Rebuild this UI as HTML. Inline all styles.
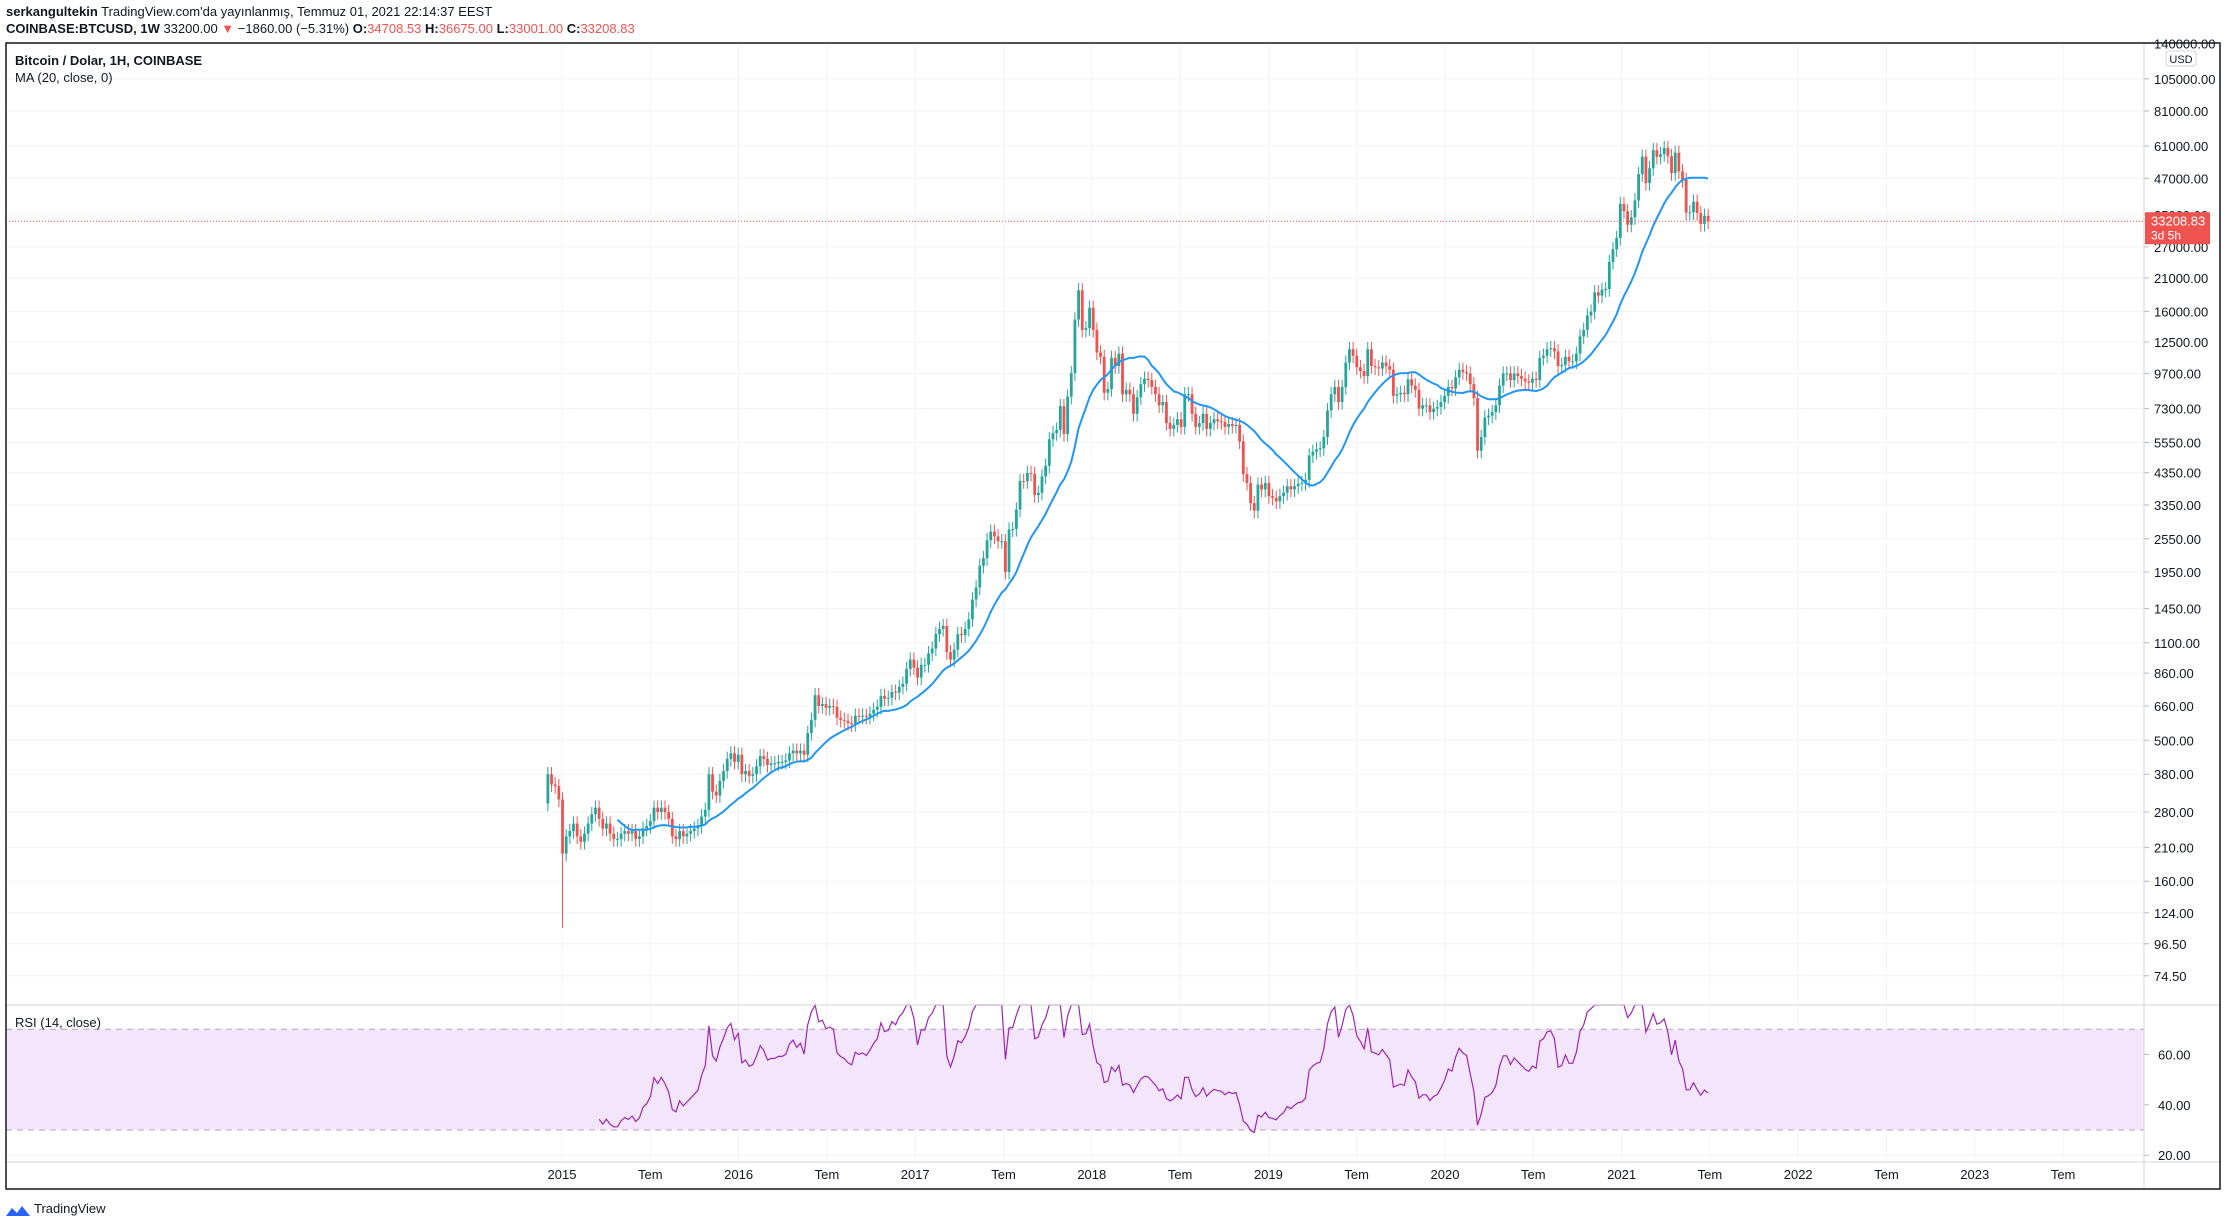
<!DOCTYPE html>
<html><head><meta charset="utf-8">
<style>
html,body{margin:0;padding:0;background:#fff;}
body{width:2228px;height:1226px;overflow:hidden;font-family:"Liberation Sans",sans-serif;}
svg text{font-family:"Liberation Sans",sans-serif;}
</style></head>
<body>
<svg id="chart" width="2228" height="1226" viewBox="0 0 2228 1226" xmlns="http://www.w3.org/2000/svg">
  <g id="header">
    <text x="6" y="16" font-size="13" fill="#131722"><tspan font-weight="bold">serkangultekin</tspan> TradingView.com'da yayınlanmış, Temmuz 01, 2021 22:14:37 EEST</text>
    <text x="6" y="33" font-size="13" fill="#131722"><tspan font-weight="bold">COINBASE:BTCUSD, 1W</tspan>  33200.00 <tspan fill="#ef5350">▼</tspan> −1860.00 (−5.31%) <tspan font-weight="bold">O:</tspan><tspan fill="#ef5350">34708.53</tspan> <tspan font-weight="bold">H:</tspan><tspan fill="#ef5350">36675.00</tspan> <tspan font-weight="bold">L:</tspan><tspan fill="#ef5350">33001.00</tspan> <tspan font-weight="bold">C:</tspan><tspan fill="#ef5350">33208.83</tspan></text>
  </g>
  <g id="grid"></g>
  <rect x="6" y="1005" width="2138" height="157" fill="none"/>
  <g id="rsiBand"></g>
  <g id="candles"></g>
  <g id="ma"></g>
  <g id="rsi"></g>
  <g id="axes"></g>
  <text x="15" y="65" font-size="13" font-weight="bold" fill="#131722">Bitcoin / Dolar, 1H, COINBASE</text>
  <text x="15" y="82" font-size="13" fill="#131722">MA (20, close, 0)</text>
  <text x="15" y="1027" font-size="13" fill="#131722">RSI (14, close)</text>
  <rect x="6" y="43" width="2214" height="1146" fill="none" stroke="#131722" stroke-width="1.5"/>
  <g>
    <path d="M6 1216 l6 -8 l5 5 l5 -7 l8 10 z" fill="#2962ff"/>
    <text x="34" y="1213" font-size="13" fill="#131722">TradingView</text>
  </g>
</svg>
<script>
const priceTicks=[140000,105000,81000,61000,47000,35000,27000,21000,16000,12500,9700,7300,5550,4350,3350,2550,1950,1450,1100,860,660,500,380,280,210,160,124,96.5,74.5];
const rsiTicks=[60,40,20];
const timeLabels=["2015","Tem","2016","Tem","2017","Tem","2018","Tem","2019","Tem","2020","Tem","2021","Tem","2022","Tem","2023","Tem"];
const timeValues=[2015,2015.5,2016,2016.5,2017,2017.5,2018,2018.5,2019,2019.5,2020,2020.5,2021,2021.5,2022,2022.5,2023,2023.5];
const firstOpen=300;
const closes=[380,350,345,310,
200,230,240,255,230,220,235,255,275,290,265,245,255,235,225,225,235,240,235,240,225,230,245,250,260,290,280,290,280,265,230,225,240,230,235,240,245,250,270,285,380,330,320,360,390,430,450,420,
445,380,390,375,380,405,440,430,410,415,415,420,420,425,450,460,450,460,445,530,590,720,660,670,650,660,655,600,590,585,575,570,610,605,610,605,620,640,655,715,700,705,740,735,770,790,890,960,
900,830,920,920,1010,1050,1180,1230,1260,1020,960,1040,1180,1170,1230,1330,1560,1720,2050,2180,2520,2700,2600,2500,2500,1950,2750,2760,3230,4070,4060,4340,4310,3630,3700,4220,4600,5700,5990,6150,7450,5950,8040,9730,15000,19000,13800,14000,
16500,13800,11500,11100,8300,8550,11000,10300,11400,8200,8500,8200,7000,8000,8900,9300,9200,8700,8200,7500,7700,6500,6200,6400,6700,6300,8200,8200,7000,6300,6500,7000,6200,6500,6700,6600,6550,6300,6450,6350,6400,5600,4300,4000,3400,3200,3950,3800,
4000,3600,3550,3450,3600,3700,3900,3800,3900,3980,4000,4100,5000,5150,5250,5300,5800,7200,8200,8700,7700,8700,10600,11800,11200,10200,9900,9500,11800,10300,10200,10100,10600,10300,10000,8100,8200,8300,8200,9250,8800,8500,7300,7500,7500,7100,7300,7400,
7700,8100,8700,8600,9400,10000,9800,9700,8900,7950,5200,5800,6800,6900,7100,7500,8800,9700,9700,9200,9700,9500,9300,9100,9000,9300,9200,11000,11200,11800,11900,11600,10300,10400,11100,10700,10700,11400,13100,13800,15500,16000,18700,18200,19100,19200,23900,26500,
29000,38200,36000,32300,34300,39300,48600,56000,45200,51000,59000,55900,57100,60000,56200,49000,57800,49700,46400,35600,35700,38900,35500,32500,34700,33200];
const startYear=2014.92, endYear=2021.49;
const NS="http://www.w3.org/2000/svg";
const xYear=t=>562+(t-2015)*176.6;
const yPrice=p=>740.3-123.7*Math.log(p/500);
const yRsi=v=>1130-(v-30)*2.52;
const PL=6,PR=2144,PT=43,PB=1005,RT=1005,RB=1162;
function el(tag,attrs,parent){const e=document.createElementNS(NS,tag);for(const k in attrs)e.setAttribute(k,attrs[k]);parent.appendChild(e);return e;}
const grid=document.getElementById('grid'),axes=document.getElementById('axes');
// grid
timeValues.forEach((t,i)=>{const x=xYear(t);
 const g=el('line',{x1:x,x2:x,y1:PT,y2:RB,stroke:'#f0f3fa','stroke-width':1},grid);
 
 
 const tx=el('text',{x:x,y:1179,'font-size':13,'text-anchor':'middle',fill:'#131722'},axes);
 tx.textContent=timeLabels[i];
 
 
});
priceTicks.forEach(p=>{const y=yPrice(p);
 if(y>PT&&y<PB){const g=el('line',{x1:PL,x2:PR,y1:y,y2:y,stroke:'#f0f3fa','stroke-width':1},grid);
 
 }
 el('line',{x1:PR,x2:PR+5,y1:y,y2:y,stroke:'#b2b5be'},axes);
 const tx=el('text',{x:PR+10,y:y+5,'font-size':13,fill:'#131722'},axes);
 tx.textContent=p.toFixed(2);
 
 
});
rsiTicks.forEach(v=>{const y=yRsi(v);
 const g=el('line',{x1:PL,x2:PR,y1:y,y2:y,stroke:'#f0f3fa'},grid);
 
 
 el('line',{x1:PR,x2:PR+5,y1:y,y2:y,stroke:'#b2b5be'},axes);
 const tx=el('text',{x:PR+14,y:y+5,'font-size':13,fill:'#131722'},axes);
 tx.textContent=v.toFixed(2);
 
 
});
// separators
el('line',{x1:PR,x2:PR,y1:PT,y2:1189,stroke:'#d1d4dc'},axes);
el('line',{x1:PL,x2:2220,y1:PB,y2:PB,stroke:'#d1d4dc'},axes);
el('line',{x1:PL,x2:2220,y1:RB,y2:RB,stroke:'#d1d4dc'},axes);
// USD badge
const ub=el('rect',{x:2166,y:51,width:30,height:15,rx:3,fill:'#fff',stroke:'#d1d4dc'},axes);


const ut=el('text',{x:2181,y:63,'font-size':11,'text-anchor':'middle',fill:'#131722'},axes);ut.textContent='USD';
// RSI band
const band=document.getElementById('rsiBand');
el('rect',{x:PL,y:yRsi(70),width:PR-PL,height:yRsi(30)-yRsi(70),fill:'#f3e5fc'},band);
[70,30].forEach(v=>el('line',{x1:PL,x2:PR,y1:yRsi(v),y2:yRsi(v),stroke:'#b2a6c4','stroke-dasharray':'6 5'},band));
// candles
const n=closes.length;
const xi=i=>xYear(startYear+(endYear-startYear)*i/(n-1));
const cg=document.getElementById('candles');
for(let i=0;i<n;i++){
 const o=i===0?firstOpen:closes[i-1],c=closes[i];
 const up=c>=o,col=up?'#26a69a':'#ef5350';
 const hi=Math.max(o,c)*1.06,lo=Math.min(o,c)*(i===4?0.55:0.94);
 const x=xi(i);
 const w=el('line',{x1:x,x2:x,y1:yPrice(hi),y2:yPrice(lo),stroke:col,'stroke-width':1},cg);
 
 
 const yt=yPrice(Math.max(o,c)),yb=yPrice(Math.min(o,c));
 const b=el('rect',{x:x-1.4,y:yt,width:2.8,height:Math.max(1,yb-yt),fill:col},cg);
 
 
}
// MA20
let pts=[];
for(let i=19;i<n;i++){let s=0;for(let j=i-19;j<=i;j++)s+=closes[j];pts.push(xi(i).toFixed(1)+','+yPrice(s/20).toFixed(1));}
const ma=el('polyline',{points:pts.join(' '),fill:'none',stroke:'#2196f3','stroke-width':2},document.getElementById('ma'));


// RSI14 (Wilder)
let ag=0,al=0,rp=[];
for(let i=1;i<n;i++){const d=closes[i]-closes[i-1],g=Math.max(d,0),l=Math.max(-d,0);
 if(i<=14){ag+=g/14;al+=l/14;}else{ag=(ag*13+g)/14;al=(al*13+l)/14;}
 if(i>=14){const r=al===0?100:100-100/(1+ag/al);rp.push(xi(i).toFixed(1)+','+Math.max(RT,yRsi(r)).toFixed(1));}}
const rl=el('polyline',{points:rp.join(' '),fill:'none',stroke:'#9c27b0','stroke-width':1.2},document.getElementById('rsi'));


// last price line + label
const last=33208.83,yl=yPrice(last);
el('line',{x1:PL,x2:PR,y1:yl,y2:yl,stroke:'#ef5350','stroke-dasharray':'1 2'},axes);
const lb=el('rect',{x:PR+1,y:yl-9,width:65,height:32,fill:'#ef5350'},axes);


const l1=el('text',{x:PR+7,y:yl+4,'font-size':13,fill:'#fff'},axes);l1.textContent='33208.83';
const l2=el('text',{x:PR+7,y:yl+18,'font-size':12,fill:'#fff'},axes);l2.textContent='3d 5h';
</script>
</body></html>
